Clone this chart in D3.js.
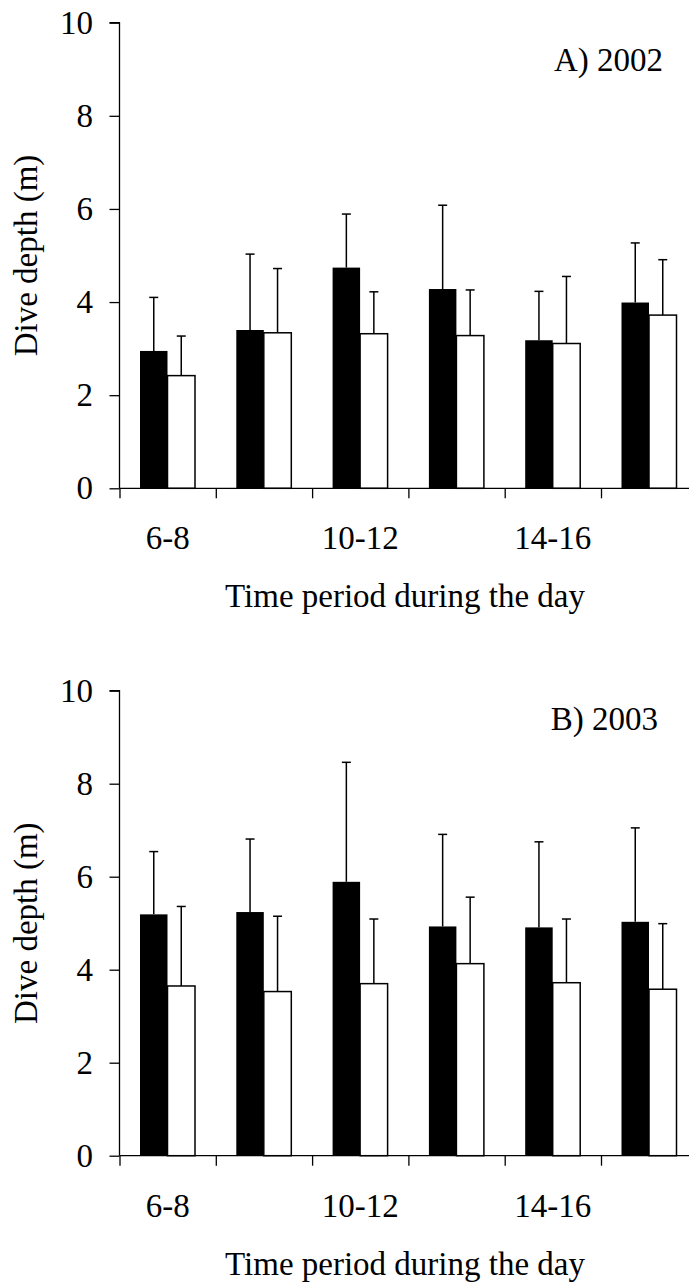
<!DOCTYPE html>
<html>
<head>
<meta charset="utf-8">
<script src="https://cdn.jsdelivr.net/npm/d3@7"></script>
<style>
  html, body { margin: 0; padding: 0; background: #fff; }
  svg { display: block; }
  text { font-family: "Liberation Serif", "Times New Roman", serif; fill: #000; }
</style>
</head>
<body>
<svg id="chart" width="689" height="1283"></svg>
<script>
// ---- data ----
const categories = ["6-8", "8-10", "10-12", "12-14", "14-16", "16-18"];
const tickLabels = ["6-8", "", "10-12", "", "14-16", ""];
const yTicks = [0, 2, 4, 6, 8, 10];
const series = ["black", "white"];

const panelTitles = ["A) 2002", "B) 2003"];

const blackMean2002 = [2.95, 3.40, 4.74, 4.28, 3.18, 3.99];
const blackSD2002   = [1.15, 1.63, 1.15, 1.80, 1.05, 1.28];
const whiteMean2002 = [2.42, 3.34, 3.32, 3.28, 3.11, 3.72];
const whiteSD2002   = [0.85, 1.38, 0.90, 0.98, 1.44, 1.19];

const blackMean2003 = [5.19, 5.24, 5.89, 4.93, 4.91, 5.03];
const blackSD2003   = [1.35, 1.57, 2.57, 1.98, 1.84, 2.02];
const whiteMean2003 = [3.65, 3.53, 3.70, 4.13, 3.72, 3.58];
const whiteSD2003   = [1.71, 1.62, 1.39, 1.43, 1.37, 1.41];

const yLabel = "Dive depth (m)";
const xLabel = "Time period during the day";

// ---- layout ----
const FONT = 33;
const panels = [
  { title: panelTitles[0], top: 22.7, bottom: 488.3, titleX: 663, titleY: 70.7,
    black: blackMean2002, blackSD: blackSD2002, white: whiteMean2002, whiteSD: whiteSD2002 },
  { title: panelTitles[1], top: 690.7, bottom: 1155.7, titleX: 658, titleY: 730,
    black: blackMean2003, blackSD: blackSD2003, white: whiteMean2003, whiteSD: whiteSD2003 }
];
const axisX = 119.5;
const step = 96.3;

const svg = d3.select("#chart");

const x = d3.scaleBand().domain(categories)
  .range([axisX, axisX + step * categories.length]).padding(0);
const xs = d3.scaleBand().domain(series).range([20.5, 75.5]).padding(0);
const xBound = d3.scaleLinear().domain([0, categories.length])
  .range([axisX, axisX + step * categories.length]);

panels.forEach(p => {
  const g = svg.append("g");
  const y = d3.scaleLinear().domain([0, 10]).range([p.bottom, p.top]);

  const rows = categories.map((c, i) => ({
    cat: c,
    vals: [
      { s: "black", v: p.black[i], e: p.blackSD[i] },
      { s: "white", v: p.white[i], e: p.whiteSD[i] }
    ]
  }));

  // error bars (drawn first, bars over them)
  const eg = g.append("g");
  rows.forEach(r => {
    r.vals.forEach(d => {
      const cx = x(r.cat) + xs(d.s) + xs.bandwidth() / 2;
      eg.append("line")
        .attr("x1", cx).attr("x2", cx)
        .attr("y1", y(d.v)).attr("y2", y(d.v + d.e))
        .attr("stroke", "#000").attr("stroke-width", 1.5);
      eg.append("line")
        .attr("x1", cx - 4.5).attr("x2", cx + 4.5)
        .attr("y1", y(d.v + d.e)).attr("y2", y(d.v + d.e))
        .attr("stroke", "#000").attr("stroke-width", 1.5);
    });
  });

  // bars
  rows.forEach(r => {
    r.vals.forEach(d => {
      const rect = g.append("rect")
        .attr("x", x(r.cat) + xs(d.s))
        .attr("width", xs.bandwidth())
        .attr("y", y(d.v))
        .attr("height", y(0) - y(d.v));
      if (d.s === "black") {
        rect.attr("fill", "#000");
      } else {
        rect.attr("fill", "#fff").attr("stroke", "#000").attr("stroke-width", 1.5);
      }
    });
  });

  // y axis
  const ya = g.append("g")
    .attr("transform", `translate(${axisX},0)`)
    .call(d3.axisLeft(y).tickValues(yTicks).tickSize(10).tickPadding(16.5)
      .tickFormat(d3.format("d")));
  ya.select(".domain").attr("stroke", "#000").attr("stroke-width", 1.3)
    .attr("d", `M0,${p.bottom}V${p.top}H-10`);
  ya.selectAll(".tick line").attr("stroke", "#000").attr("stroke-width", 1.3);
  ya.selectAll(".tick text").style("font-family", '"Liberation Serif", "Times New Roman", serif')
    .style("font-size", FONT + "px").attr("fill", "#000");

  // x axis (ticks at category boundaries)
  const xa = g.append("g")
    .attr("transform", `translate(0,${p.bottom})`)
    .call(d3.axisBottom(xBound).tickValues(d3.range(0, categories.length + 1))
      .tickSize(10).tickFormat(""));
  xa.select(".domain").attr("stroke", "#000").attr("stroke-width", 1.3)
    .attr("d", `M${axisX},0H689`);
  xa.selectAll(".tick line").attr("stroke", "#000").attr("stroke-width", 1.3);

  // category labels
  g.append("g").selectAll("text")
    .data(categories)
    .join("text")
    .attr("x", d => x(d) + x.bandwidth() / 2)
    .attr("y", p.bottom + 60.8)
    .attr("text-anchor", "middle")
    .style("font-size", FONT + "px")
    .text((d, i) => tickLabels[i]);

  // x title
  g.append("text")
    .attr("x", 405)
    .attr("y", p.bottom + 119)
    .attr("text-anchor", "middle")
    .style("font-size", FONT + "px")
    .text(xLabel);

  // y title
  g.append("text")
    .attr("transform", `translate(37,${(p.top + p.bottom) / 2}) rotate(-90)`)
    .attr("text-anchor", "middle")
    .style("font-size", FONT + "px")
    .text(yLabel);

  // panel title
  g.append("text")
    .attr("x", p.titleX)
    .attr("y", p.titleY)
    .attr("text-anchor", "end")
    .style("font-size", FONT + "px")
    .text(p.title);
});
</script>
</body>
</html>
